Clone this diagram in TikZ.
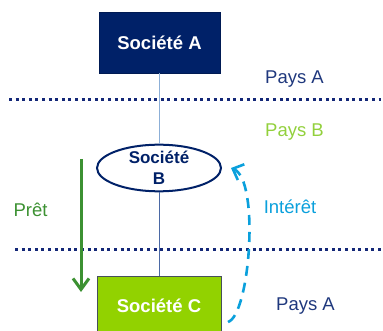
\documentclass[tikz,border=0pt]{standalone}
\usepackage{fontspec}
\setmainfont{Liberation Sans}
\usetikzlibrary{shapes.geometric,arrows.meta}
\definecolor{navy}{RGB}{0,33,104}
\definecolor{navytext}{RGB}{31,56,125}
\definecolor{dotblue}{RGB}{20,40,120}
\definecolor{linkblue}{RGB}{140,175,215}
\definecolor{linknavy}{RGB}{75,105,165}
\definecolor{limegreen}{RGB}{146,210,0}
\definecolor{paysbgreen}{RGB}{146,208,60}
\definecolor{loangreen}{RGB}{60,145,50}
\definecolor{interestcyan}{RGB}{10,160,220}
\definecolor{boxedge}{RGB}{70,80,90}
\tikzset{
  company/.style={draw, rectangle, inner sep=0pt, font=\fontsize{18.5}{21}\selectfont\bfseries, text=white},
  label/.style={anchor=base, font=\fontsize{18.5}{21}\selectfont},
  border/.style={dotblue, line width=3pt, dash pattern=on 3pt off 3.6pt},
}
\begin{document}
\begin{tikzpicture}[x=1pt, y=-1pt]
\useasboundingbox (0,0) rectangle (383,331);

% companies
\node[company, fill=navy, draw=navy!80!black, minimum width=121pt, minimum height=61pt] (A) at (159.5,42.5) {Société A};
\node[ellipse, draw=navy, line width=2pt, fill=white, minimum width=124pt, minimum height=46pt, inner sep=0pt,
      align=center, text=navy, font=\fontsize{17}{20.5}\selectfont\bfseries] (B) at (159,168) {Société\\B};
\node[company, fill=limegreen, draw=boxedge, line width=0.8pt, minimum width=124pt, minimum height=59pt] (C) at (159,305.5) {Société C};

% ownership links
\draw[linkblue, line width=1pt] (A.south) -- (A.south |- B.north);
\draw[linknavy, line width=0.8pt] (B.south -| A.south) -- (C.north -| A.south);

% country borders
\coordinate (topL) at (9,100);
\coordinate (topR) at (381,100);
\coordinate (botL) at (15,250);
\coordinate (botR) at (381,250);
\draw[border] (topL) -- (topR);
\draw[border] (botL) -- (botR);

% country labels
\node[label, text=navytext] (paysA1) at (294.5,84) {Pays A};
\node[label, text=paysbgreen] (paysB) at (294.5,137) {Pays B};
\node[label, text=navytext] (paysA2) at (305.5,310) {Pays A};

% loan
\coordinate (loanTop) at (81,159);
\coordinate (loanEnd) at (81,292);
\draw[loangreen, line width=3pt, -{Straight Barb[length=11pt, width=16pt, line width=3pt]}] (loanTop) -- (loanEnd);
\node[label, text=loangreen] (loan) at (30.5,217) {Prêt};

% interest
\coordinate (intStart) at (228,322);
\coordinate (intEnd) at (231,168);
\draw[interestcyan, line width=2.6pt, dash pattern=on 10pt off 7pt, -{Straight Barb[length=9pt, width=17pt, line width=2.6pt]}]
  (intStart) .. controls (250,315) and (260,180) .. (intEnd);
\node[label, text=interestcyan] (interest) at (290,214) {Intérêt};
\end{tikzpicture}
\end{document}
